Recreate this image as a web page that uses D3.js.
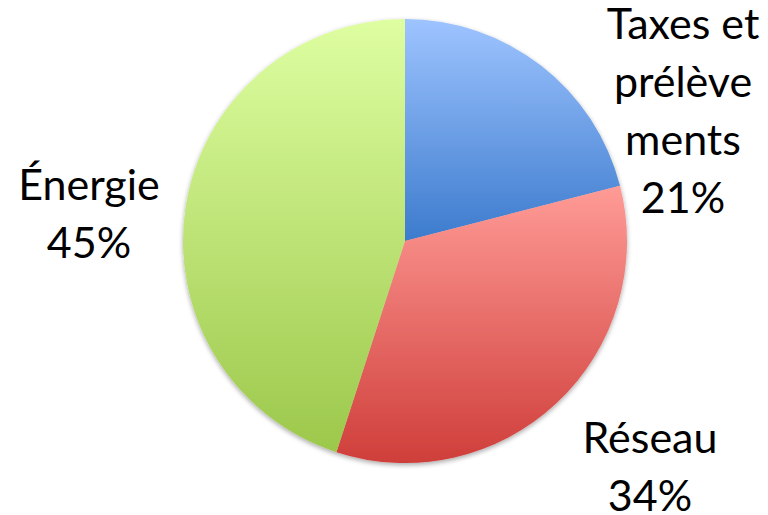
<!DOCTYPE html>
<html>
<head>
<meta charset="utf-8">
<script src="https://cdn.jsdelivr.net/npm/d3@7/dist/d3.min.js"></script>
<style>
  html, body { margin: 0; padding: 0; background: #fff; }
  svg { display: block; }
</style>
</head>
<body>
<svg id="chart" width="768" height="515"></svg>
<script>
// Breakdown of an electricity bill
const categories = ["Taxes et prélèvements", "Réseau", "Énergie"];
const shares = [21, 34, 45];
const labelLines = [["Taxes et", "prélève", "ments", "21%"], ["Réseau", "34%"], ["Énergie", "45%"]];
const topColors = ["#9ec4ff", "#ff9b96", "#defea1"];
const bottomColors = ["#3c7bcd", "#cf3e3a", "#9cc84b"];

const width = 768, height = 515;
const cx = 405, cy = 241, radius = 222;

const svg = d3.select("#chart");
const defs = svg.append("defs");

// vertical gradient for each slice, spanning the slice's own bounding box
categories.forEach((c, i) => {
  const g = defs.append("linearGradient")
    .attr("id", "grad" + i)
    .attr("x1", 0).attr("y1", 0).attr("x2", 0).attr("y2", 1);
  g.append("stop").attr("offset", "0%").attr("stop-color", topColors[i]);
  g.append("stop").attr("offset", "100%").attr("stop-color", bottomColors[i]);
});

const shadow = defs.append("filter").attr("id", "shadow")
  .attr("x", "-10%").attr("y", "-10%").attr("width", "120%").attr("height", "120%");
shadow.append("feGaussianBlur").attr("in", "SourceAlpha").attr("stdDeviation", 2.5).attr("result", "blur");
shadow.append("feOffset").attr("in", "blur").attr("dx", 0).attr("dy", 2).attr("result", "off");
shadow.append("feComponentTransfer").attr("in", "off").attr("result", "soft")
  .append("feFuncA").attr("type", "linear").attr("slope", 0.35);
const merge = shadow.append("feMerge");
merge.append("feMergeNode").attr("in", "soft");
merge.append("feMergeNode").attr("in", "SourceGraphic");

const pie = d3.pie().sort(null).value(d => d)(shares);
const arc = d3.arc().innerRadius(0).outerRadius(radius);

const g = svg.append("g").attr("transform", `translate(${cx},${cy})`);
const slices = g.append("g").attr("filter", "url(#shadow)");
slices.selectAll("path")
  .data(pie)
  .join("path")
  .attr("d", arc)
  .attr("fill", (d, i) => `url(#grad${i})`);

// label anchor points: centre x and baseline of first line
const labelPos = [[683, 39], [650, 453], [89, 200]];
const lineHeight = 58;

const labels = svg.append("g")
  .attr("font-family", "Lato, 'Open Sans', sans-serif")
  .attr("font-size", 43)
  .attr("fill", "#000")
  .attr("text-anchor", "middle");

labelLines.forEach((lines, i) => {
  const t = labels.append("text")
    .attr("x", labelPos[i][0])
    .attr("y", labelPos[i][1]);
  lines.forEach((ln, j) => {
    t.append("tspan")
      .attr("x", labelPos[i][0])
      .attr("dy", j === 0 ? 0 : lineHeight)
      .text(ln);
  });
});
</script>
</body>
</html>
